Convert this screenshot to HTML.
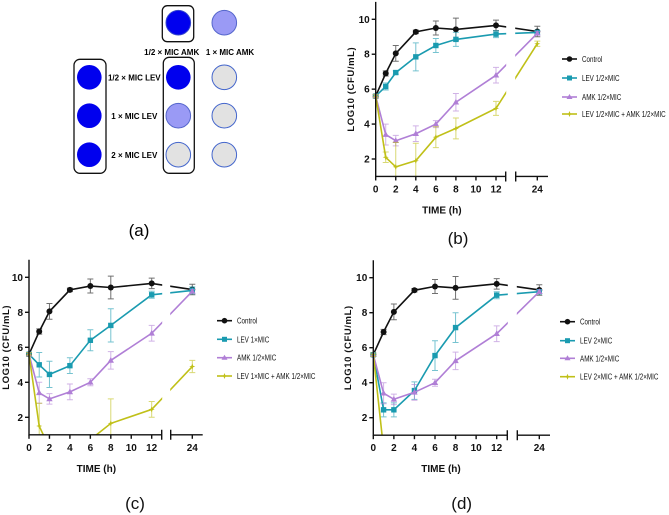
<!DOCTYPE html>
<html><head><meta charset="utf-8"><style>
html,body{margin:0;padding:0;background:#fff;}
svg{display:block;font-family:"Liberation Sans",sans-serif;}
</style></head><body>
<svg id="fig" width="669" height="515" viewBox="0 0 669 515" xmlns="http://www.w3.org/2000/svg">
<g id="panelA">
  <rect x="162.3" y="5.7" width="31.4" height="36" rx="5" fill="none" stroke="#111" stroke-width="1.3"/>
  <rect x="74" y="59.3" width="32" height="114" rx="6" fill="none" stroke="#111" stroke-width="1.3"/>
  <rect x="163.3" y="57.3" width="31" height="116" rx="6" fill="none" stroke="#111" stroke-width="1.3"/>
  <circle cx="178.3" cy="22.7" r="12.3" fill="#0000ee" stroke="#3344cc"/>
  <circle cx="224.3" cy="22.7" r="12.3" fill="#9a9af5" stroke="#5566cc"/>
  <text x="171.7" y="55" font-size="8" font-weight="bold" text-anchor="middle">1/2 × MIC AMK</text>
  <text x="230" y="55" font-size="8" font-weight="bold" text-anchor="middle">1 × MIC AMK</text>
  <circle cx="89.3" cy="77.3" r="12.3" fill="#0000ee"/>
  <circle cx="89.3" cy="115.7" r="12.3" fill="#0000ee"/>
  <circle cx="89.3" cy="154.7" r="12.3" fill="#0000ee"/>
  <text x="134.3" y="80.5" font-size="8" font-weight="bold" text-anchor="middle">1/2 × MIC  LEV</text>
  <text x="134.3" y="119" font-size="8" font-weight="bold" text-anchor="middle">1 × MIC LEV</text>
  <text x="134.3" y="158" font-size="8" font-weight="bold" text-anchor="middle">2 × MIC LEV</text>
  <circle cx="178.3" cy="77.3" r="12.3" fill="#0000ee"/>
  <circle cx="178.3" cy="115.7" r="12.3" fill="#9a9af5" stroke="#5566cc"/>
  <circle cx="178.3" cy="154.7" r="12.3" fill="#e2e2e2" stroke="#4466cc"/>
  <circle cx="224.3" cy="77.3" r="12.3" fill="#e2e2e2" stroke="#4466cc"/>
  <circle cx="224.3" cy="115.7" r="12.3" fill="#e2e2e2" stroke="#4466cc"/>
  <circle cx="224.3" cy="154.7" r="12.3" fill="#e2e2e2" stroke="#4466cc"/>
  <text x="139" y="236" font-size="17" text-anchor="middle">(a)</text>
</g>
</svg>
<script>
const hours=[0,1,2,4,6,8,12,24];
const xTicks=[0,2,4,6,8,10,12];
const yTicks=[2,4,6,8,10];
const controlVals=[5.6,6.9,8.05,9.28,9.5,9.42,9.65,9.3];
const controlErr=[0.1,0.15,0.45,0.1,0.4,0.65,0.3,0.3];
const amkVals=[5.6,3.4,3.05,3.45,4.0,5.25,6.8,9.2];
const amkErr=[0.1,0.6,0.3,0.45,0.2,0.5,0.45,0.1];
const levHalfVals=[5.6,6.15,6.95,7.85,8.5,8.85,9.15,9.25];
const levHalfErr=[0.1,0.2,0.1,0.8,0.4,0.4,0.2,0.1];
const comboHalfVals=[5.6,2.1,1.55,1.9,3.25,3.75,4.9,8.6];
const comboHalfErr=[0.1,0.3,1.4,1.0,0.6,0.6,0.4,0.15];
const lev1Vals=[5.6,5.0,4.45,4.95,6.4,7.25,9.0,9.25];
const lev1Err=[0.1,0.7,0.75,0.45,0.6,0.95,0.2,0.2];
const combo1Vals=[5.6,1.5,0.25,0,0.72,1.65,2.45,4.9];
const combo1Err=[0.1,1.3,0,0,0,1.4,0.45,0.35];
const lev2Vals=[5.6,2.45,2.45,3.55,5.55,7.15,9.0,9.2];
const lev2Err=[0.1,0.4,0.4,0.5,0.85,0.85,0.2,0.1];
const combo2Vals=[5.6,0.2,0,0,0,0,0,0];
const combo2Err=[0.1,0,0,0,0,0,0,0];
const legendB=["Control","LEV 1/2×MIC","AMK 1/2×MIC","LEV 1/2×MIC + AMK 1/2×MIC"];
const legendC=["Control","LEV 1×MIC","AMK 1/2×MIC","LEV 1×MIC + AMK 1/2×MIC"];
const legendD=["Control","LEV 2×MIC","AMK 1/2×MIC","LEV 2×MIC + AMK 1/2×MIC"];

const NS="http://www.w3.org/2000/svg";
const svg=document.getElementById('fig');
const COLORS=["#111111","#1a9bb0","#b07fd6","#c0c018"];
function mk(tag,attrs,parent){const e=document.createElementNS(NS,tag);for(const k in attrs)e.setAttribute(k,attrs[k]);(parent||svg).appendChild(e);return e;}

function drawPanel(id,cfg,series,legend){
  const g=mk('g',{});
  
  
  const per=(cfg.x12-cfg.ox)/12;
  const X=h=>h<=13?cfg.ox+h*per:cfg.x24;
  const ppu=(cfg.y2-cfg.y10)/8;
  const Y=v=>cfg.y2+(2-v)*ppu;
  const yTop=Y(11), yBot=Y(1);
  const clipId='clip'+id;
  const cp=mk('clipPath',{id:clipId},g);
  mk('rect',{x:cfg.ox-8,y:yTop-2,width:cfg.xEnd-cfg.ox+16,height:yBot-yTop+2},cp);
  const plot=mk('g',{'clip-path':'url(#'+clipId+')'},g);
  series.forEach((s,si)=>{
    const col=COLORS[si];
    const sg=mk('g',{},plot);
    
    
    const pts=hours.map((h,i)=>X(h).toFixed(1)+','+Y(s.vals[i]).toFixed(1)).join(' ');
    const pl=mk('polyline',{points:pts,fill:'none',stroke:col,'stroke-width':1.6},sg);
    
    
    hours.forEach((h,i)=>{
      const e=s.err[i];
      if(e>0.05){
        const x=X(h),y1=Y(s.vals[i]+e),y2=Y(s.vals[i]-e);
        const eb=mk('path',{d:`M${x},${y1}V${y2}M${x-3},${y1}H${x+3}M${x-3},${y2}H${x+3}`,stroke:col,'stroke-width':1,opacity:0.6,fill:'none'},sg);
        
        
      }
      const x=X(h),y=Y(s.vals[i]);
      let m;
      if(si===0)m=mk('circle',{cx:x,cy:y,r:3,fill:col},sg);
      else if(si===1)m=mk('rect',{x:x-2.7,y:y-2.7,width:5.4,height:5.4,fill:col},sg);
      else if(si===2)m=mk('path',{d:`M${x},${y-3.3}L${x+3.2},${y+2.3}L${x-3.2},${y+2.3}Z`,fill:col},sg);
      else m=mk('path',{d:`M${x},${y-3}L${x+1.2},${y}L${x},${y+3}L${x-1.2},${y}Z M${x-3},${y}L${x},${y-1}L${x+3},${y}L${x},${y+1}Z`,fill:col},sg);
      
      
    });
  });
  mk('rect',{x:cfg.brkA+0.5,y:yTop-5,width:cfg.brkB-cfg.brkA-1,height:yBot-yTop+4,fill:'#fff'},g);
  const ax=mk('g',{stroke:'#111','stroke-width':1.4,fill:'none'},g);
  
  
  mk('path',{d:`M${cfg.ox},${yTop}V${yBot}H${cfg.brkA}M${cfg.brkB},${yBot}H${cfg.xEnd}M${cfg.brkA},${yBot-5}V${yBot+5}M${cfg.brkB},${yBot-5}V${yBot+5}`},ax);
  yTicks.forEach(v=>{
    mk('path',{d:`M${cfg.ox-4},${Y(v)}H${cfg.ox}`},ax);
    const t=mk('text',{x:cfg.ox-6,y:Y(v)+3.5,'font-size':10,'font-weight':'bold','text-anchor':'end',fill:'#111',stroke:'none'},g);
    t.textContent=v;
    
    
  });
  xTicks.concat([24]).forEach(h=>{
    mk('path',{d:`M${X(h)},${yBot}V${yBot+4}`},ax);
    const t=mk('text',{x:X(h),y:yBot+16,'font-size':10,'font-weight':'bold','text-anchor':'middle',fill:'#111'},g);
    t.textContent=h;
    
    
  });
  const xt=mk('text',{x:(cfg.ox+cfg.x12)/2+6,y:yBot+37,'font-size':10,'font-weight':'bold','text-anchor':'middle',fill:'#111'},g);
  xt.textContent='TIME (h)';
  
  
  const yl=mk('text',{x:0,y:0,'font-size':9.5,'font-weight':'bold','text-anchor':'middle',fill:'#111','letter-spacing':'0.6',transform:`translate(${cfg.ylx},${(yTop+yBot)/2}) rotate(-90)`},g);
  yl.textContent='LOG10  (CFU/mL)';
  
  
  legend.forEach((lab,i)=>{
    const y=cfg.legY[i], col=COLORS[i];
    const lg=mk('g',{},g);
    
    
    mk('line',{x1:cfg.legX,y1:y,x2:cfg.legX+15,y2:y,stroke:col,'stroke-width':1.6},lg);
    const cx=cfg.legX+7.5;
    if(i===0)mk('circle',{cx:cx,cy:y,r:2.8,fill:col},lg);
    else if(i===1)mk('rect',{x:cx-2.5,y:y-2.5,width:5,height:5,fill:col},lg);
    else if(i===2)mk('path',{d:`M${cx},${y-3}L${cx+3},${y+2}L${cx-3},${y+2}Z`,fill:col},lg);
    else mk('path',{d:`M${cx},${y-3}L${cx+1.2},${y}L${cx},${y+3}L${cx-1.2},${y}Z`,fill:col},lg);
    const t=mk('text',{x:0,y:0,'font-size':8.5,fill:'#111',transform:`translate(${cfg.legX+20},${y+3}) scale(0.74,1)`},lg);
    t.textContent=lab;
  });
  const pl=mk('text',{x:cfg.plx,y:cfg.ply,'font-size':17,'text-anchor':'middle',fill:'#111'},g);
  pl.textContent='('+id+')';
  
  
}

drawPanel('b',{ox:375.7,x12:496,x24:537.3,brkA:505.7,brkB:515.7,xEnd:548,y10:19.3,y2:159,ylx:354,legX:562,legY:[59,78,97,114],plx:458,ply:244},
  [{name:'control',vals:controlVals,err:controlErr},{name:'lev',vals:levHalfVals,err:levHalfErr},{name:'amk',vals:amkVals,err:amkErr},{name:'combo',vals:comboHalfVals,err:comboHalfErr}],legendB);
drawPanel('c',{ox:29,x12:151.7,x24:192.3,brkA:161.7,brkB:170.7,xEnd:202.7,y10:277.3,y2:417.3,ylx:9,legX:217,legY:[320.7,339.3,357.7,376],plx:135,ply:509},
  [{name:'control',vals:controlVals,err:controlErr},{name:'lev',vals:lev1Vals,err:lev1Err},{name:'amk',vals:amkVals,err:amkErr},{name:'combo',vals:combo1Vals,err:combo1Err}],legendC);
drawPanel('d',{ox:373.3,x12:496.7,x24:539.3,brkA:507.3,brkB:517.3,xEnd:550,y10:277.7,y2:417.7,ylx:351,legX:560,legY:[321.7,340.7,358.3,376.7],plx:461.7,ply:509},
  [{name:'control',vals:controlVals,err:controlErr},{name:'lev',vals:lev2Vals,err:lev2Err},{name:'amk',vals:amkVals,err:amkErr},{name:'combo',vals:combo2Vals,err:combo2Err}],legendD);
</script>
</body></html>
